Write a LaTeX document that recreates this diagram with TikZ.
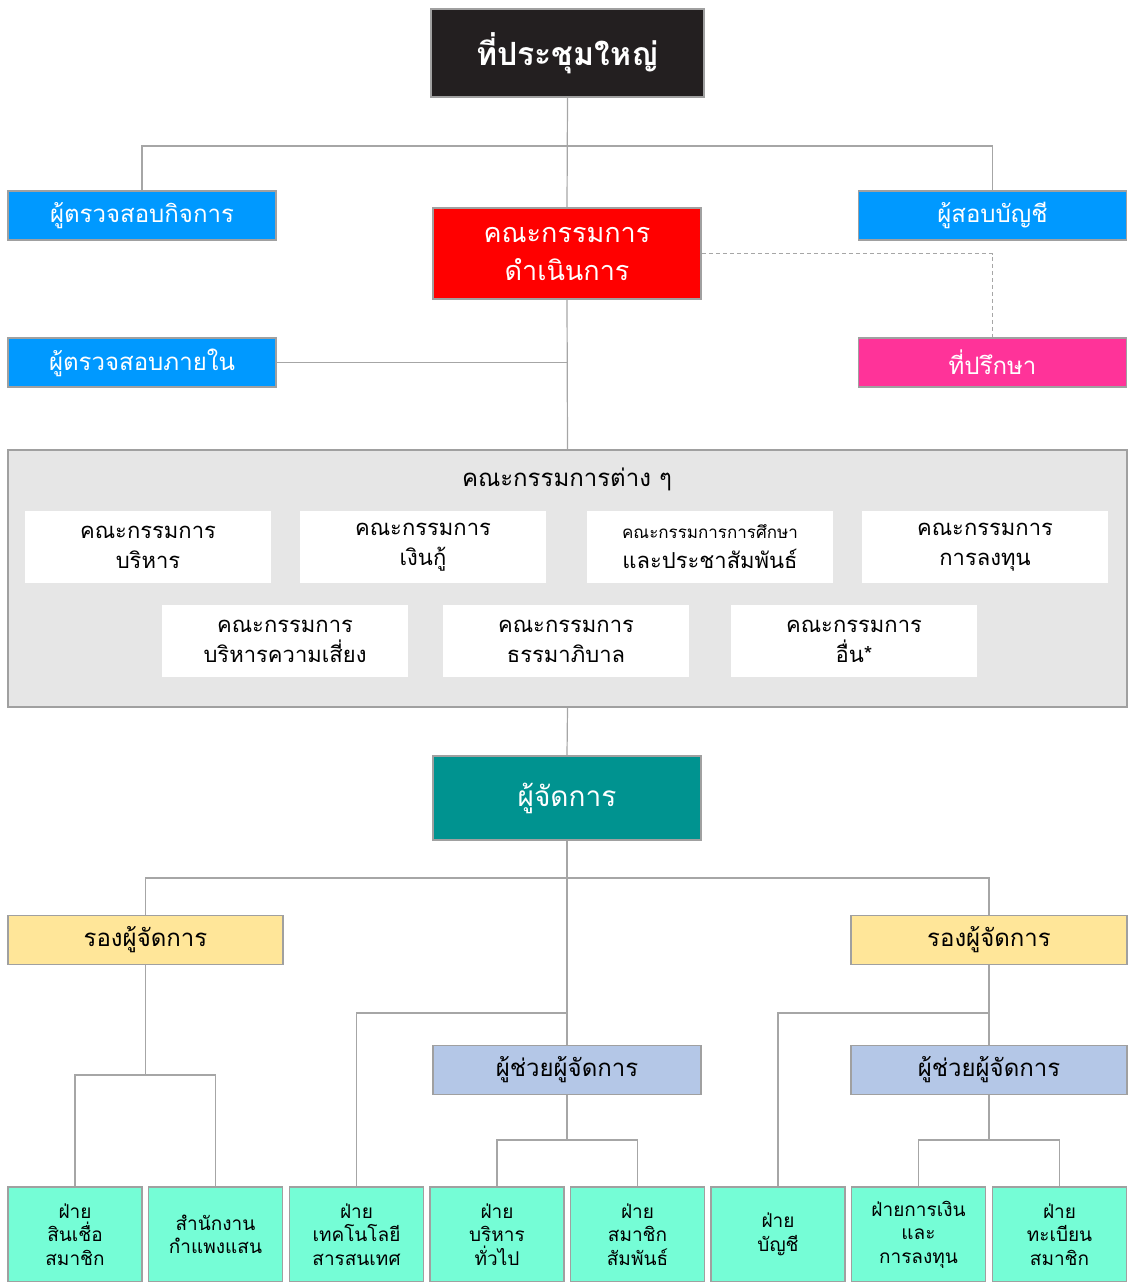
\documentclass[tikz,border=0pt]{standalone}
\usepackage{fontspec}
\setmainfont{Loma}[Script=Thai]
\usepackage{tikz}
\definecolor{gmblack}{HTML}{231F20}
\definecolor{auditblue}{HTML}{0099FF}
\definecolor{boardred}{HTML}{FF0000}
\definecolor{advpink}{HTML}{FF3399}
\definecolor{framegray}{HTML}{E6E6E6}
\definecolor{mgrteal}{HTML}{009390}
\definecolor{depyellow}{HTML}{FFE699}
\definecolor{asstblue}{HTML}{B4C7E7}
\definecolor{divaqua}{HTML}{75FDD6}
\definecolor{linegray}{HTML}{A6A6A6}
\definecolor{boxgray}{HTML}{A0A0A0}

\begin{document}
\begin{tikzpicture}[x=1pt, y=-1pt,
  conn/.style={draw=linegray, line width=1.2pt},
  box/.style={draw=boxgray, line width=1.8pt, inner sep=0pt, align=center, minimum height=49pt},
  topbox/.style={box, minimum width=268pt, text=white, font=\fontsize{24}{28}\selectfont},
  combox/.style={fill=white, inner sep=0pt, align=center, minimum width=246pt, minimum height=72pt, font=\fontsize{22}{30}\selectfont},
  midbox/.style={box, font=\fontsize{24}{28}\selectfont},
  divbox/.style={box, fill=divaqua, minimum width=134pt, minimum height=95pt, font=\fontsize{19}{23.5}\selectfont}]
\useasboundingbox (0,0) rectangle (1127,1282);

\node[box, fill=gmblack, minimum width=273pt, minimum height=88pt, text=white, font=\fontsize{32}{36}\selectfont\bfseries] (gm) at (567.5,53) {ที่ประชุมใหญ่};
\node[topbox, fill=auditblue] (aud) at (142,215.5) {ผู้ตรวจสอบกิจการ};
\node[topbox, fill=auditblue] (ext) at (992.5,215.5) {ผู้สอบบัญชี};
\node[box, fill=boardred, minimum width=268pt, minimum height=91pt, text=white, font=\fontsize{27}{38}\selectfont] (board) at (567,253.5) {คณะกรรมการ\\ดำเนินการ};
\node[topbox, fill=auditblue] (intaud) at (142,362.5) {ผู้ตรวจสอบภายใน};
\node[topbox, fill=advpink] (adv) at (992.5,362.5) {ที่ปรึกษา};

\node[draw=boxgray, line width=2pt, fill=framegray, minimum width=1119pt, minimum height=257pt] (frame) at (567.5,578.5) {};
\node[font=\fontsize{24}{28}\selectfont] (comtitle) at (567,479) {คณะกรรมการต่าง ๆ};
\node[combox] (c1) at (148,547) {คณะกรรมการ\\บริหาร};
\node[combox] (c2) at (423,547) {คณะกรรมการ\\เงินกู้};
\node[combox] (c3) at (710,547) {{\fontsize{17}{26}\selectfont คณะกรรมการการศึกษา}\\และประชาสัมพันธ์};
\node[combox] (c4) at (985,547) {คณะกรรมการ\\การลงทุน};
\node[combox] (c5) at (285,641) {คณะกรรมการ\\บริหารความเสี่ยง};
\node[combox] (c6) at (566,641) {คณะกรรมการ\\ธรรมาภิบาล};
\node[combox] (c7) at (854,641) {คณะกรรมการ\\อื่น*};

\node[box, fill=mgrteal, minimum width=268pt, minimum height=84pt, text=white, font=\fontsize{28}{32}\selectfont] (mgr) at (567,798) {ผู้จัดการ};
\node[midbox, fill=depyellow, minimum width=275pt] (dep1) at (145.5,940) {รองผู้จัดการ};
\node[midbox, fill=depyellow, minimum width=276pt] (dep2) at (989,940) {รองผู้จัดการ};
\node[midbox, fill=asstblue, minimum width=268pt] (asst1) at (567,1070) {ผู้ช่วยผู้จัดการ};
\node[midbox, fill=asstblue, minimum width=276pt] (asst2) at (989,1070) {ผู้ช่วยผู้จัดการ};

\node[divbox] (d1) at (75,1234.5) {ฝ่าย\\สินเชื่อ\\สมาชิก};
\node[divbox] (d2) at (215.5,1234.5) {สำนักงาน\\กำแพงแสน};
\node[divbox] (d3) at (356.5,1234.5) {ฝ่าย\\เทคโนโลยี\\สารสนเทศ};
\node[divbox] (d4) at (497,1234.5) {ฝ่าย\\บริหาร\\ทั่วไป};
\node[divbox] (d5) at (637.5,1234.5) {ฝ่าย\\สมาชิก\\สัมพันธ์};
\node[divbox] (d6) at (778,1234.5) {ฝ่าย\\บัญชี};
\node[divbox] (d7) at (918.5,1234.5) {ฝ่ายการเงิน\\และ\\การลงทุน};
\node[divbox] (d8) at (1059.5,1234.5) {ฝ่าย\\ทะเบียน\\สมาชิก};

\coordinate (j1) at (567,146);
\coordinate (j2) at (567,878);
\coordinate (j3) at (567,1013);
\coordinate (j4) at (989,1013);
\coordinate (j5) at (145.5,1075);
\coordinate (j6) at (567,1140);
\coordinate (j7) at (989,1140);

\draw[conn] (gm.south) -- (board.north);
\draw[conn] (aud.north) |- (j1) -| (ext.north);
\draw[conn, dash pattern=on 4pt off 3pt] (board.east) -| (adv.north);
\draw[conn] (intaud.east) -- (intaud.east -| board.south);
\draw[conn] (board.south) -- (frame.north);
\draw[conn] (frame.south) -- (mgr.north);
\draw[conn] (mgr.south) -- (asst1.north);
\draw[conn] (dep1.north) |- (j2) -| (dep2.north);
\draw[conn] (d3.north) |- (j3);
\draw[conn] (dep2.south) -- (asst2.north);
\draw[conn] (d6.north) |- (j4);
\draw[conn] (dep1.south) -- (j5);
\draw[conn] (d1.north) |- (j5) -| (d2.north);
\draw[conn] (asst1.south) -- (j6);
\draw[conn] (d4.north) |- (j6) -| (d5.north);
\draw[conn] (asst2.south) -- (j7);
\draw[conn] (d7.north) |- (j7) -| (d8.north);
\end{tikzpicture}
\end{document}
